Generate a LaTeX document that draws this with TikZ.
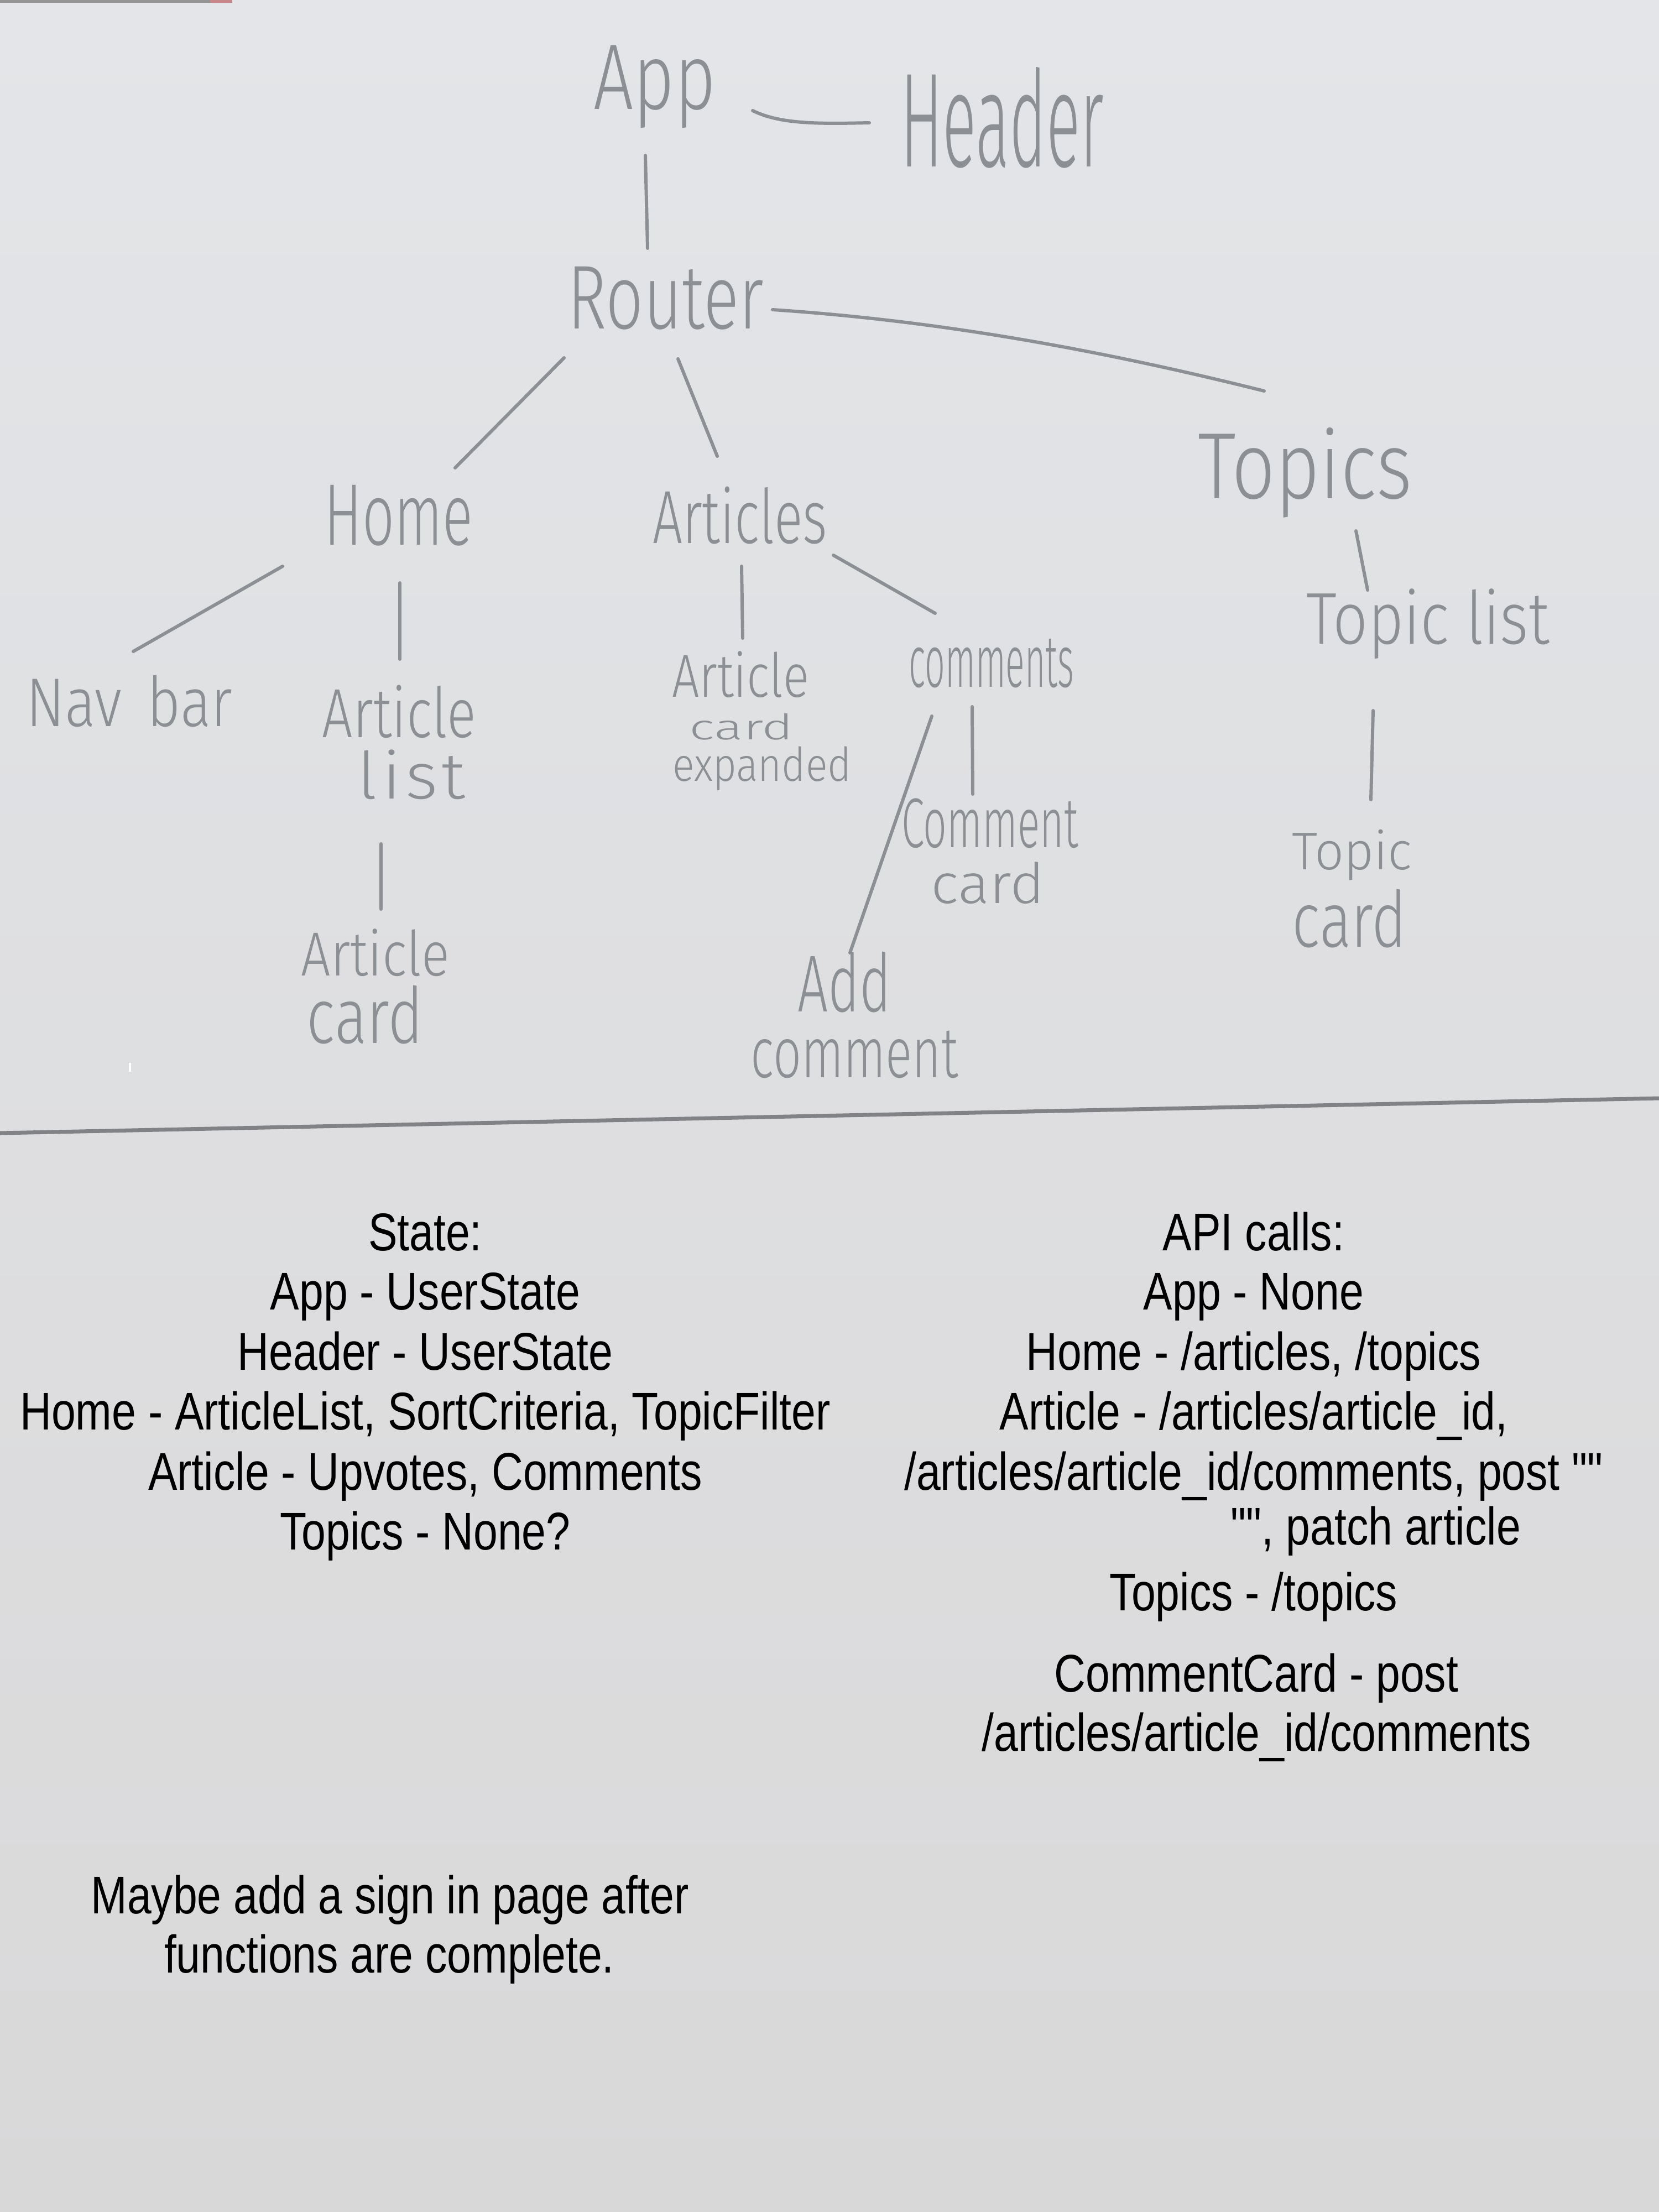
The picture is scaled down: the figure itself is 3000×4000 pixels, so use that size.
\documentclass[tikz,border=0pt]{standalone}
\usepackage{fontspec}
\usepackage{graphicx}
\setmainfont{Liberation Sans}[FakeStretch=0.82]
% same face without TeX ligatures, so that " stays a straight quote
\newfontfamily\straightq{Liberation Sans}[FakeStretch=0.82]
\newfontfamily\handfont{Fira Sans Light}

\definecolor{paperTop}{HTML}{E3E5E8}
\definecolor{paperMid}{HTML}{DFE0E2}
\definecolor{paperBot}{HTML}{D9D8D9}
\definecolor{pencil}{HTML}{8C8F93}
\definecolor{ruleline}{HTML}{808285}

% one unit of the picture
\newlength\px
\setlength\px{0.01cm}
% a handwritten word, stretched to its box (width, total height)
\newcommand\hw[3]{\resizebox*{#1\px}{#2\px}{\handfont #3}}
\newcommand\qq{{\straightq ""}}

\tikzset{
  hand/.style={inner sep=0pt, text=pencil},
  link/.style={draw=pencil, line width=1.7pt, line cap=round},
  typed/.style={inner sep=0pt, anchor=base, text=black,
                font=\fontsize{27.3}{30}\selectfont},
}

\begin{document}
\begin{tikzpicture}[x=0.01cm, y=-0.01cm]
  % sheet of paper
  \shade[top color=paperTop, middle color=paperMid, bottom color=paperBot]
    (0,0) rectangle (3000,4000);
  \useasboundingbox (0,0) rectangle (3000,4000);
  \fill[gray!60!black!60] (0,0) rectangle (380,5);
  \fill[red!35!gray!70] (380,0) rectangle (420,5);

  % ruled separator across the sheet
  \draw[ruleline, line width=2pt] (0,2049) -- (3000,1986);
  \draw[white, line width=1.2pt] (235,1922) -- (235,1938);

  % component tree (pencil)
  \node[hand] (app)       at (1184,157)  {\hw{221}{150}{App}};
  \node[hand] (header)    at (1812,213)  {\hw{368}{183}{Header}};
  \node[hand] (router)    at (1204,539)  {\hw{354}{114}{Router}};
  \node[hand] (home)      at (721,932)   {\hw{268}{110}{Home}};
  \node[hand] (articles)  at (1338,932)  {\hw{316}{104}{Articles}};
  \node[hand] (topics)    at (2360,855)  {\hw{387}{163}{Topics}};
  \node[hand] (navbar)    at (234,1268)  {\hw{373}{94}{Nav\hspace{.45em}bar}};
  \node[hand] (artlist)   at (722,1287)  {\hw{278}{96}{Article}};
  \node[hand] (artlistb)  at (744,1401)  {\hw{195}{90}{l\kern.07em i\kern.07em s\kern.05em t}};
  \node[hand] (artcard)   at (679,1723)  {\hw{268}{86}{Article}};
  \node[hand] (artcardb)  at (660,1835)  {\hw{210}{106}{card}};
  \node[hand] (artexp)    at (1339,1220) {\hw{248}{84}{Article}};
  \node[hand] (artexpb)   at (1341,1314) {\hw{188}{48}{card}};
  \node[hand] (artexpc)   at (1378,1390) {\hw{323}{80}{expanded}};
  \node[hand] (comments)  at (1793,1199) {\hw{299}{89}{comments}};
  \node[hand] (ccard)     at (1790,1489) {\hw{320}{90}{Comment}};
  \node[hand] (ccardb)    at (1786,1597) {\hw{205}{76}{card}};
  \node[hand] (addc)      at (1527,1776) {\hw{169}{110}{Add}};
  \node[hand] (addcb)     at (1545,1907) {\hw{375}{86}{comment}};
  \node[hand] (topiclist) at (2582,1128) {\hw{440}{127}{Topic list}};
  \node[hand] (tcard)     at (2445,1546) {\hw{217}{92}{Topic}};
  \node[hand] (tcardb)    at (2440,1661) {\hw{207}{106}{card}};

  % pencil strokes between components
  \draw[link] ([shift={(-17,124)}]app.center) -- ([shift={(-33,-90)}]router.center);
  \draw[link] ([shift={(177,43)}]app.center)
    .. controls +(50,25) and +(-90,2) .. ([shift={(-240,9)}]header.center);
  \draw[link] ([shift={(193,21)}]router.center)
    .. controls +(300,20) and +(-300,-75) .. ([shift={(-74,-148)}]topics.center);
  \draw[link] ([shift={(-184,108)}]router.center) -- ([shift={(102,-86)}]home.center);
  \draw[link] ([shift={(22,110)}]router.center) -- ([shift={(-41,-107)}]articles.center);
  \draw[link] ([shift={(-210,92)}]home.center) -- ([shift={(7,-90)}]navbar.center);
  \draw[link] ([shift={(2,122)}]home.center) -- ([shift={(1,-95)}]artlist.center);
  \draw[link] ([shift={(3,92)}]articles.center) -- ([shift={(4,-66)}]artexp.center);
  \draw[link] ([shift={(169,72)}]articles.center) -- ([shift={(-102,-90)}]comments.center);
  \draw[link] ([shift={(92,105)}]topics.center) -- ([shift={(-109,-61)}]topiclist.center);
  \draw[link] ([shift={(-55,125)}]artlistb.center) -- ([shift={(10,-79)}]artcard.center);
  \draw[link] ([shift={(-35,79)}]comments.center) -- ([shift={(-31,-53)}]ccard.center);
  \draw[link] ([shift={(-108,96)}]comments.center) -- ([shift={(10,-53)}]addc.center);
  \draw[link] ([shift={(-99,157)}]topiclist.center) -- ([shift={(34,-100)}]tcard.center);

  % typed notes: state
  \node[typed] (st0) at (769,2261) {State:};
  \node[typed] (st1) at (769,2368) {App - UserState};
  \node[typed] (st2) at (769,2477) {Header - UserState};
  \node[typed] (st3) at (769,2585) {Home - ArticleList, SortCriteria, TopicFilter};
  \node[typed] (st4) at (769,2694) {Article - Upvotes, Comments};
  \node[typed] (st5) at (769,2802) {Topics - None?};

  % typed notes: API calls
  \node[typed] (api0) at (2267,2261) {API calls:};
  \node[typed] (api1) at (2267,2368) {App - None};
  \node[typed] (api2) at (2267,2477) {Home - /articles, /topics};
  \node[typed] (api3) at (2267,2585) {Article - /articles/article\_id,};
  \node[typed] (api4) at (2267,2694) {/articles/article\_id/comments, post \qq};
  \node[typed] (api5) at (2488,2793) {\qq, patch article};
  \node[typed] (api6) at (2267,2912) {Topics - /topics};
  \node[typed] (api7) at (2272,3059) {CommentCard - post};
  \node[typed] (api8) at (2272,3166) {/articles/article\_id/comments};

  % closing remark
  \node[typed] (note0) at (705,3460) {Maybe add a sign in page after};
  \node[typed] (note1) at (704,3567) {functions are complete.};
\end{tikzpicture}
\end{document}
